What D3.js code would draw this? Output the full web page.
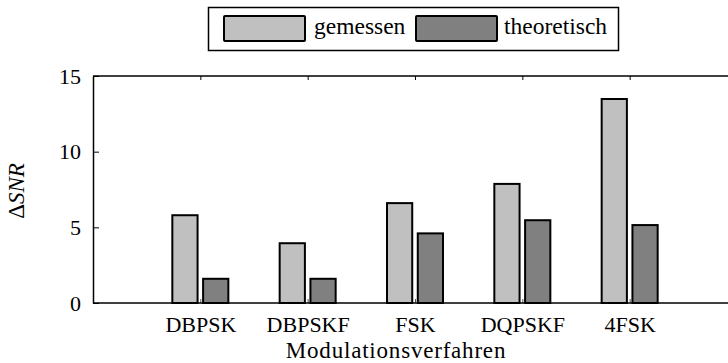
<!DOCTYPE html>
<html><head><meta charset="utf-8">
<script src="https://cdn.jsdelivr.net/npm/d3@7"></script>
<style>html,body{margin:0;padding:0;background:#fff;overflow:hidden}svg{display:block}svg text{font-family:'Liberation Serif','Times New Roman',Times,serif;fill:#000}</style>
</head><body><svg id="c" width="728" height="363"></svg>
<script>
const categories = ["DBPSK","DBPSKF","FSK","DQPSKF","4FSK"];
const series = ["gemessen","theoretisch"];
const gemessen = [5.8, 3.95, 6.6, 7.87, 13.48];
const theoretisch = [1.6, 1.6, 4.6, 5.47, 5.15];
const yTicks = [0, 5, 10, 15];
const colors = ["#c0c0c0", "#808080"];

const FONT = "'Liberation Serif', 'Times New Roman', Times, serif";
const svg = d3.select("#c");
const L = 93, R = 737, T = 76, B = 303;
const x = d3.scaleLinear().domain([0, categories.length + 1]).range([L, R]);
const y = d3.scaleLinear().domain([0, 15]).range([B, T]);
const inner = d3.scaleBand().domain(series).range([-28, 28]).paddingInner(0.18);
const color = d3.scaleOrdinal().domain(series).range(colors);
const values = {gemessen, theoretisch};
const centers = categories.map((c, i) => i + 1);

// bars
categories.forEach((c, i) => {
  series.forEach(s => {
    const v = values[s][i];
    svg.append("rect")
      .attr("x", x(i + 1) + inner(s))
      .attr("y", y(v))
      .attr("width", inner.bandwidth())
      .attr("height", y(0) - y(v))
      .attr("fill", color(s))
      .attr("stroke", "#000")
      .attr("stroke-width", 2);
  });
});

// left axis
const ax = svg.append("g").attr("transform", `translate(${L},0)`)
  .call(d3.axisLeft(y).tickValues(yTicks).tickSize(-6).tickPadding(12).tickSizeOuter(0));
ax.attr("font-family", FONT).attr("font-size", 22);
ax.select(".domain").attr("stroke-width", 1.5);

// bottom axis
const bx = svg.append("g").attr("transform", `translate(0,${B})`)
  .call(d3.axisBottom(x).tickValues(centers).tickFormat((d) => categories[d - 1]).tickSize(-4).tickSizeOuter(0));
bx.attr("font-family", FONT).attr("font-size", 22);
bx.select(".domain").remove();
bx.selectAll(".tick line").attr("stroke", "#555");
bx.selectAll("text").attr("y", 29).attr("dy", 0);

// top ticks
const tx = svg.append("g").attr("transform", `translate(0,${T})`)
  .call(d3.axisTop(x).tickValues(centers).tickFormat("").tickSize(-4).tickSizeOuter(0));
tx.select(".domain").remove();

// frame lines (top and bottom, running off the right edge)
[T, B].forEach(yy => {
  svg.append("line").attr("x1", L).attr("x2", 728).attr("y1", yy).attr("y2", yy)
    .attr("stroke", "#000").attr("stroke-width", 1.5);
});

// axis titles
svg.append("text").attr("x", 396).attr("y", 358).attr("text-anchor", "middle")
  .attr("font-family", FONT).attr("font-size", 23).attr("letter-spacing", 0.8)
  .text("Modulationsverfahren");
const yl = svg.append("text").attr("transform", "translate(24,191) rotate(-90)")
  .attr("text-anchor", "middle").attr("font-family", FONT).attr("font-size", 23);
yl.append("tspan").text("Δ");
yl.append("tspan").attr("font-style", "italic").text("SNR");

// legend
const lg = svg.append("g");
lg.append("rect").attr("x", 208.5).attr("y", 7.5).attr("width", 410).attr("height", 43)
  .attr("fill", "#fff").attr("stroke", "#000").attr("stroke-width", 1.5);
const legPos = [{sx: 224, tx: 314}, {sx: 416, tx: 504}];
series.forEach((s, i) => {
  lg.append("rect").attr("x", legPos[i].sx).attr("y", 16).attr("width", 81).attr("height", 25)
    .attr("fill", color(s)).attr("stroke", "#000").attr("stroke-width", 2).attr("rx", 1);
  lg.append("text").attr("x", legPos[i].tx).attr("y", 34).attr("font-family", FONT)
    .attr("font-size", 23.5).text(s);
});
</script></body></html>
